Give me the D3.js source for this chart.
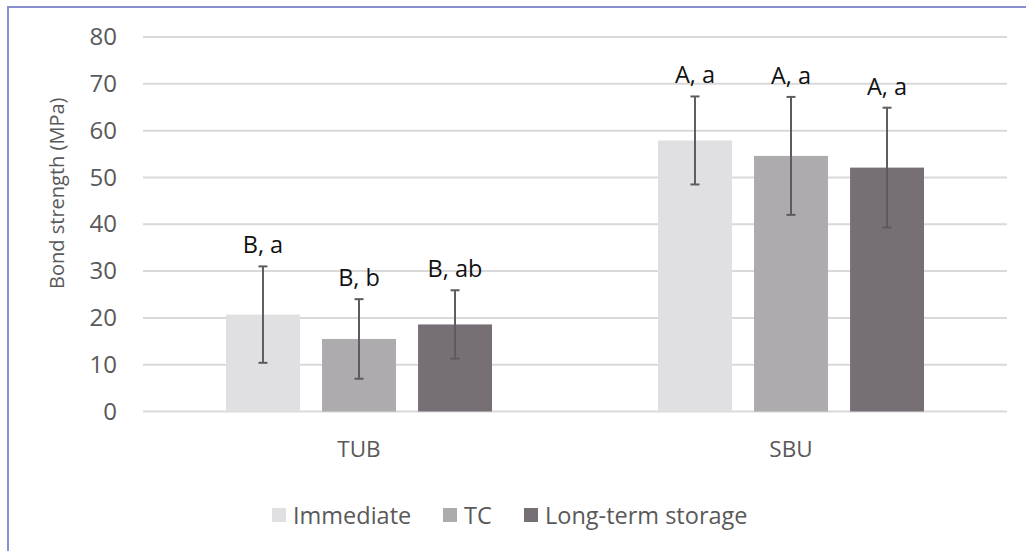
<!DOCTYPE html>
<html>
<head>
<meta charset="utf-8">
<script src="https://cdn.jsdelivr.net/npm/d3@7"></script>
<style>
  body { margin: 0; background: #fff; }
  text { font-family: "Open Sans", sans-serif; }
</style>
</head>
<body>
<div id="chart"></div>
<script>
const categories = ["TUB", "SBU"];
const series = ["Immediate", "TC", "Long-term storage"];
const means = [[20.7, 15.5, 18.6], [57.9, 54.6, 52.1]];
const sds = [[10.3, 8.5, 7.3], [9.4, 12.6, 12.8]];
const letters = [["B, a", "B, b", "B, ab"], ["A, a", "A, a", "A, a"]];
const yTicks = [0, 10, 20, 30, 40, 50, 60, 70, 80];
const colors = ["#e0dfe2", "#adabae", "#767076"];

const width = 1026, height = 551;
const margin = {top: 37, right: 19, bottom: 139.5, left: 143};

const svg = d3.select("#chart").append("svg")
    .attr("width", width)
    .attr("height", height);

// frame (only top + left edge visible in the picture)
svg.append("path")
    .attr("d", `M8,${height}V7H${width}`)
    .attr("fill", "none")
    .attr("stroke", "#8c8fcf")
    .attr("stroke-width", 2);

const x0 = d3.scaleBand()
    .domain(categories)
    .range([margin.left, width - margin.right]);

const x1 = d3.scaleBand()
    .domain(series)
    .range([0, 266])
    .paddingInner(0.23);

const y = d3.scaleLinear()
    .domain([0, 80])
    .range([height - margin.bottom, margin.top]);

// grid
svg.append("g")
  .selectAll("line")
  .data(yTicks)
  .join("line")
    .attr("x1", margin.left)
    .attr("x2", width - margin.right)
    .attr("y1", d => y(d))
    .attr("y2", d => y(d))
    .attr("stroke", "#d9d9d9")
    .attr("stroke-width", 2);

const yAxis = svg.append("g")
    .attr("transform", `translate(${margin.left},0)`)
    .call(d3.axisLeft(y).tickValues(yTicks).tickSize(0).tickPadding(26));
yAxis.select(".domain").remove();
yAxis.selectAll("text")
    .attr("font-size", 24)
    .attr("font-family", "Open Sans")
    .attr("fill", "#595959");

svg.append("text")
    .attr("transform", `translate(64,${(margin.top + height - margin.bottom) / 2 - 31}) rotate(-90)`)
    .attr("text-anchor", "middle")
    .attr("font-size", 20)
    .attr("fill", "#595959")
    .text("Bond strength (MPa)");

const groups = svg.append("g")
  .selectAll("g")
  .data(categories)
  .join("g")
    .attr("transform", d => `translate(${x0(d) + (x0.bandwidth() - 266) / 2},0)`);

groups.each(function(cat, ci) {
  const g = d3.select(this);
  series.forEach((s, si) => {
    const m = means[ci][si], sd = sds[ci][si];
    const cx = x1(s) + x1.bandwidth() / 2;
    g.append("rect")
        .attr("x", x1(s))
        .attr("width", x1.bandwidth())
        .attr("y", y(m))
        .attr("height", y(0) - y(m))
        .attr("fill", colors[si]);
    g.append("line")
        .attr("x1", cx).attr("x2", cx)
        .attr("y1", y(m + sd)).attr("y2", y(m - sd))
        .attr("stroke", "#5f5a60").attr("stroke-width", 2);
    [m + sd, m - sd].forEach(v => {
      g.append("line")
          .attr("x1", cx - 4.5).attr("x2", cx + 4.5)
          .attr("y1", y(v)).attr("y2", y(v))
          .attr("stroke", "#5f5a60").attr("stroke-width", 2);
    });
    g.append("text")
        .attr("x", cx)
        .attr("y", y(m + sd) - 13)
        .attr("text-anchor", "middle")
        .attr("font-size", 23.5)
        .attr("fill", "#111")
        .text(letters[ci][si]);
  });
});

// category labels
svg.append("g")
  .selectAll("text")
  .data(categories)
  .join("text")
    .attr("x", d => x0(d) + x0.bandwidth() / 2)
    .attr("y", y(0) + 45)
    .attr("text-anchor", "middle")
    .attr("font-size", 22.5)
    .attr("fill", "#595959")
    .text(d => d);

// legend
const legendX = [272, 443, 524];
const legend = svg.append("g")
  .selectAll("g")
  .data(series)
  .join("g")
    .attr("transform", (d, i) => `translate(${legendX[i]},515)`);
legend.append("rect")
    .attr("x", 0).attr("y", -7)
    .attr("width", 14).attr("height", 14)
    .attr("fill", (d, i) => colors[i]);
legend.append("text")
    .attr("x", 21)
    .attr("y", 8.5)
    .attr("font-size", 23.5)
    .attr("fill", "#595959")
    .text(d => d);
</script>
</body>
</html>
